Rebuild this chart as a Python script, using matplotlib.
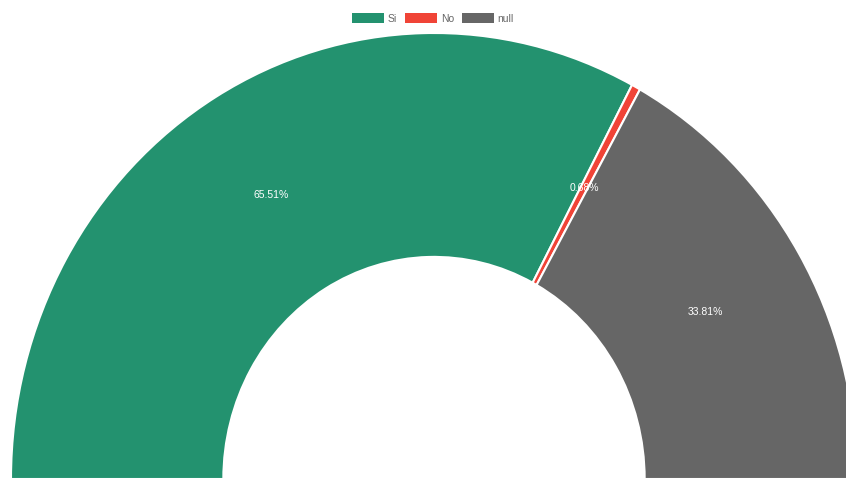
import numpy as np
import matplotlib.pyplot as plt
from matplotlib.patches import Patch

labels = ["Si", "No", "null"]
values = [65.51, 0.68, 33.81]
colors = ["#23926f", "#f04437", "#666666"]

plt.rcParams['font.family'] = ['Liberation Sans', 'DejaVu Sans']

fig = plt.figure(figsize=(8.46, 4.79), dpi=100)
ax = fig.add_axes([0, 0, 1, 1])

# half doughnut: add an invisible wedge that fills the lower half
total = sum(values)
wedges, texts, autotexts = ax.pie(
    values + [total], colors=colors + ["none"], startangle=180, counterclock=False,
    radius=1.0, pctdistance=0.745,
    autopct=lambda p: f"{p * 2:.2f}%",
    wedgeprops=dict(width=0.502, edgecolor="white", linewidth=1.5),
    textprops=dict(color="white", fontsize=7.5, va='center_baseline'))
wedges[-1].set_visible(False)
autotexts[-1].set_visible(False)

# stretched canvas: x radius 423 px, y radius 446 px, centre at bottom
ax.set_aspect('auto')
ax.set_xlim(-434 / 423, (846 - 434) / 423)
ax.set_ylim(0, 479 / 446)
ax.axis('off')

handles = [Patch(facecolor=c, edgecolor="white", linewidth=0) for c in colors]
fig.legend(handles, labels, loc='center', bbox_to_anchor=(0.512, 1 - 18.5 / 479), ncol=3,
           frameon=False, fontsize=7.5, labelcolor="#666666", handlelength=3.0,
           handleheight=1.06, handletextpad=0.4, columnspacing=0.8)

fig.savefig("out.png", dpi=100)
